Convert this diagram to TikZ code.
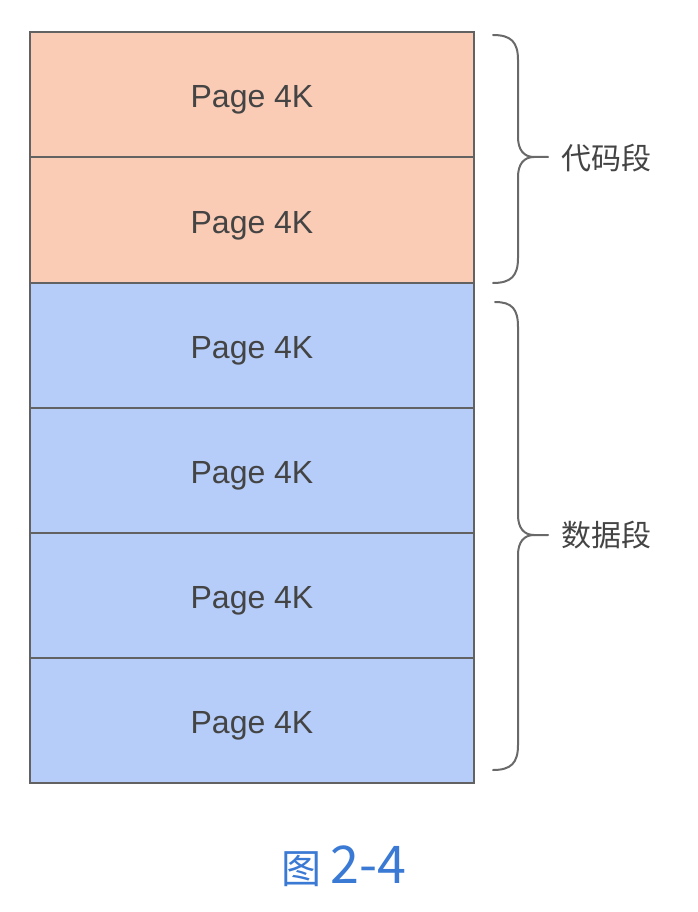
\documentclass[tikz,border=0pt]{standalone}
\usepackage{fontspec}
\setmainfont{Liberation Sans}
\newfontfamily\cjk{Noto Sans CJK SC}
\definecolor{codefill}{RGB}{250,204,182}
\definecolor{datafill}{RGB}{181,205,248}
\definecolor{edgegray}{RGB}{98,98,98}
\definecolor{bracegray}{RGB}{105,105,105}
\definecolor{txtgray}{RGB}{68,68,68}
\definecolor{capblue}{RGB}{58,122,212}
\begin{document}
\begin{tikzpicture}[x=1pt,y=-1pt,
  pagebox/.style={draw=edgegray,line width=2pt,minimum width=444pt,minimum height=125pt,inner sep=0pt,outer sep=0pt,
    text=txtgray,font=\fontsize{32}{36}\selectfont,text height=26pt,text depth=0pt},
  codebox/.style={pagebox,fill=codefill},
  databox/.style={pagebox,fill=datafill},
  bracepath/.style={draw=bracegray,line width=2pt,line cap=round},
  seglabel/.style={text=txtgray,font=\cjk\fontsize{30}{34}\selectfont,anchor=west,inner sep=0pt}]
\useasboundingbox (0,0) rectangle (698,912);
\fill[white] (0,0) rectangle (698,912);
\node[codebox] (p1) at (252,95) {Page 4K};
\node[codebox] (p2) at (252,220) {Page 4K};
\node[databox] (p3) at (252,345) {Page 4K};
\node[databox] (p4) at (252,470) {Page 4K};
\node[databox] (p5) at (252,595) {Page 4K};
\node[databox] (p6) at (252,720) {Page 4K};
% braces
\coordinate (t1) at (548,157);
\coordinate (t2) at (548,535);
\draw[bracepath] (493,35) .. controls (511,35) and (518,42) .. (518,60) -- (518,137)
  .. controls (518,150) and (524,157) .. (534,157) -- (t1);
\draw[bracepath] (534,157) .. controls (524,157) and (518,164) .. (518,177) -- (518,258)
  .. controls (518,276) and (511,283) .. (493,283);
\draw[bracepath] (495,302) .. controls (512,302) and (518,309) .. (518,327) -- (518,515)
  .. controls (518,528) and (524,535) .. (534,535) -- (t2);
\draw[bracepath] (534,535) .. controls (524,535) and (518,542) .. (518,555) -- (518,745)
  .. controls (518,763) and (511,770) .. (493,770);
\node[seglabel] (l1) at (561,158) {代码段};
\node[seglabel] (l2) at (561,535) {数据段};
\node[text=capblue,inner sep=0pt] (cap) at (344,866) {{\cjk\fontsize{40}{44}\selectfont 图}\hspace{9pt}{\cjk\fontsize{52}{56}\selectfont 2-4}};
\end{tikzpicture}
\end{document}
